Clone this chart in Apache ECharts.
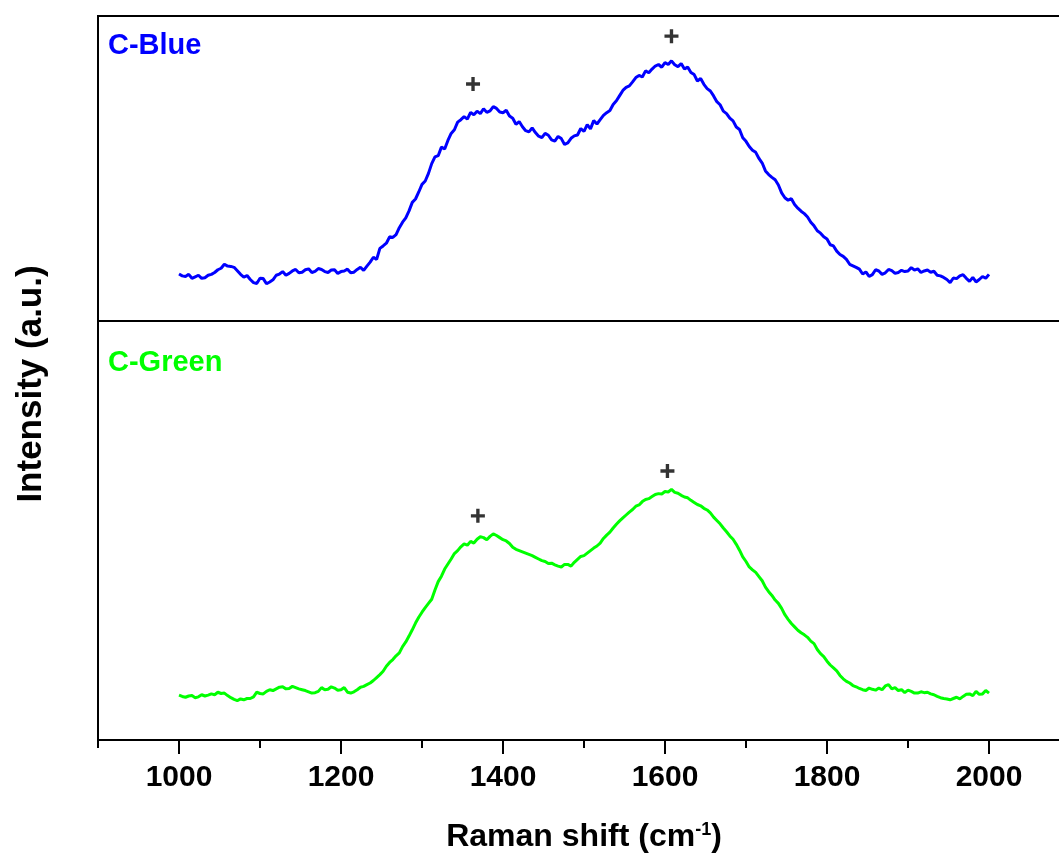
<!DOCTYPE html>
<html>
<head>
<meta charset="utf-8">
<script src="https://cdn.jsdelivr.net/npm/echarts@6/dist/echarts.min.js"></script>
<style>
  html, body { margin: 0; padding: 0; background: #fff; overflow: hidden; }
  #chart { width: 1059px; height: 859px; }
</style>
</head>
<body>
<div id="chart"></div>
<script>
// Spectra are sampled every 4 cm-1 from 1000 to 2000 cm-1
const shiftStart = 1000;
const shiftStep = 4;

// C-Blue spectrum (a.u.), one row per 64 cm-1
const blueIntensity = [
  15.4,14.8,14.6,15.3,14.0,14.5,15.0,14.0,14.2,15.0,15.3,15.9,16.8,17.3,18.6,18.0,
  17.9,17.6,16.5,15.3,14.4,14.9,13.6,12.6,12.3,14.0,13.9,12.2,12.8,13.5,15.0,15.4,
  16.2,15.0,15.6,16.4,16.9,15.8,16.0,16.8,17.1,15.9,16.3,17.2,16.9,16.2,15.9,16.7,
  16.8,15.6,16.2,16.4,17.0,15.8,16.0,16.9,17.6,16.6,18.0,19.3,20.9,20.2,23.8,24.6,
  25.5,27.6,27.4,28.3,30.6,32.4,33.8,36.1,38.9,40.0,42.3,44.8,45.9,48.4,51.6,53.8,
  54.2,57.0,56.4,59.2,61.5,62.7,65.2,66.0,67.0,66.2,68.4,67.6,68.8,68.0,69.6,68.4,
  68.9,70.3,69.7,68.5,68.3,69.1,67.2,66.5,64.5,65.4,63.7,62.4,62.0,63.3,61.8,60.6,
  60.1,61.5,60.9,59.4,59.0,60.5,59.8,57.9,58.4,59.9,60.7,61.0,63.1,62.2,64.4,63.0,
  65.7,64.6,66.0,67.4,68.3,69.0,71.0,72.2,73.9,75.6,76.6,77.1,78.4,79.8,80.5,80.0,
  82.0,81.4,82.6,83.6,84.1,83.2,84.7,84.1,85.3,84.0,83.4,84.4,82.6,83.3,81.5,80.8,
  78.7,79.5,77.6,76.2,75.4,73.8,71.9,70.9,68.8,68.0,66.5,65.6,63.6,62.8,60.1,58.9,
  57.2,56.0,55.3,53.3,51.8,49.2,48.0,47.1,46.3,44.6,42.0,40.4,39.6,40.1,38.2,37.0,
  36.0,35.2,34.1,32.4,31.2,29.6,28.8,27.6,26.9,25.0,24.6,22.9,21.8,21.2,20.2,18.6,
  18.1,17.6,17.0,15.4,16.1,14.6,15.2,16.8,16.4,15.3,15.8,16.9,16.5,15.6,15.9,16.6,
  16.2,16.4,17.5,16.7,17.1,15.9,16.4,16.7,16.0,16.3,15.0,14.8,14.3,13.6,12.6,14.1,
  13.9,14.8,15.2,14.0,13.0,14.3,12.8,13.6,14.6,14.0,15.3
];

// C-Green spectrum (a.u.), one row per 64 cm-1
const greenIntensity = [
  10.7,10.4,10.2,10.5,10.6,10.1,10.3,10.8,10.5,10.7,11.0,10.8,11.4,11.1,11.2,10.6,
  10.1,9.7,9.4,9.8,9.6,9.9,9.9,10.3,11.4,11.1,11.0,11.6,12.0,11.8,12.2,12.6,
  12.7,12.2,12.3,12.8,12.5,12.2,12.0,11.8,11.5,11.2,11.3,11.6,12.5,12.0,12.1,12.7,
  12.4,11.9,12.0,12.5,11.4,11.2,11.5,12.0,12.6,12.8,13.2,13.6,14.2,14.9,15.6,16.4,
  17.6,18.5,19.2,20.1,20.8,22.3,23.4,24.8,26.3,27.9,29.3,30.5,31.6,32.6,33.6,35.8,
  37.8,39.1,40.8,42.0,43.2,44.5,45.2,46.1,46.8,46.5,47.4,47.0,47.9,48.5,48.3,47.8,
  48.6,49.2,48.8,48.3,47.8,47.5,46.9,46.0,45.5,45.2,44.9,44.6,44.3,44.0,43.6,43.2,
  42.8,42.6,42.1,42.2,41.8,41.5,41.3,41.9,41.9,41.5,42.4,43.1,43.8,44.0,44.6,45.2,
  45.8,46.3,47.0,48.1,48.9,49.6,50.6,51.5,52.3,53.0,53.7,54.4,55.0,55.8,56.1,56.9,
  57.4,57.6,58.1,58.6,58.8,58.7,59.3,59.2,59.8,59.1,58.9,58.4,58.0,57.8,57.2,56.7,
  56.2,55.9,55.3,54.9,54.2,53.2,52.4,51.6,50.6,49.7,48.7,47.9,46.7,45.3,43.7,42.6,
  41.3,40.6,40.0,39.0,38.0,36.5,35.4,34.5,33.4,32.6,31.4,29.9,28.8,27.8,27.0,26.2,
  25.6,25.1,24.5,23.6,23.0,21.6,20.6,19.9,18.8,17.9,17.2,16.5,15.4,14.6,14.0,13.6,
  13.0,12.7,12.3,12.0,11.8,12.4,12.1,11.9,12.4,12.0,12.9,13.2,12.2,12.5,11.8,12.0,
  11.3,11.9,11.6,11.2,11.2,11.5,11.3,11.4,11.0,10.8,10.4,10.1,9.9,9.8,9.6,9.9,
  10.2,9.8,10.4,10.9,11.0,10.6,11.6,10.9,11.0,11.8,11.2
];

// Band markers ("+") above the D and G bands
const blueMarkShift = [1363, 1608];
const blueMarkLevel = [77.7, 93.4];
const greenMarkShift = [1369, 1603];
const greenMarkLevel = [53.5, 64.2];

// Labelled tick values on the Raman shift axis
const tickLabels = [1000, 1200, 1400, 1600, 1800, 2000];

const panelNames = ['C-Blue', 'C-Green'];
const xAxisTitle = ['Raman shift (cm', '-1', ')'];
const yAxisTitle = 'Intensity (a.u.)';

const withShift = ys => ys.map((y, i) => [shiftStart + i * shiftStep, y]);
const pair = (xs, ys) => xs.map((x, i) => [x, ys[i]]);
const PLUS = 'path://M3.8,0H6.2V3.8H10V6.2H6.2V10H3.8V6.2H0V3.8H3.8Z';
const FONT = '"Liberation Sans", Arial, sans-serif';

const chart = echarts.init(document.getElementById('chart'), null, { renderer: 'canvas' });

// The plot frame runs past the right edge of the canvas
const frame = {
  show: true, borderColor: '#000', borderWidth: 2, backgroundColor: 'transparent',
  containLabel: false, outerBoundsMode: 'none'
};
// Ticks step from 900 every 200 (short ticks at the odd hundreds);
// the minor ticks in between fall on the even hundreds and are drawn longer.
const xRange = { type: 'value', min: 900, max: 2100, interval: 200 };

chart.setOption({
  animation: false,
  backgroundColor: '#fff',
  grid: [
    Object.assign({ left: 98, width: 972, top: 16, height: 305 }, frame),
    Object.assign({ left: 98, width: 972, top: 321, height: 419 }, frame)
  ],
  xAxis: [
    Object.assign({
      gridIndex: 0, position: 'bottom',
      axisLine: { show: false }, axisTick: { show: false },
      axisLabel: { show: false }, splitLine: { show: false }
    }, xRange),
    Object.assign({
      gridIndex: 1, position: 'bottom',
      axisLine: { show: true, lineStyle: { color: '#000', width: 2 } },
      axisTick: { show: true, inside: false, length: 8, lineStyle: { color: '#000', width: 2 } },
      minorTick: { show: true, splitNumber: 2, length: 14, lineStyle: { color: '#000', width: 2 } },
      splitLine: { show: false },
      axisLabel: {
        customValues: tickLabels, formatter: v => String(v),
        margin: 23, color: '#000', fontFamily: FONT, fontWeight: 'bold', fontSize: 30
      },
      name: '{t|' + xAxisTitle[0] + '}{s|' + xAxisTitle[1] + '}{t|' + xAxisTitle[2] + '}',
      nameLocation: 'middle', nameGap: 81,
      nameTextStyle: {
        rich: {
          t: { fontFamily: FONT, fontWeight: 'bold', fontSize: 32, color: '#000', verticalAlign: 'bottom' },
          s: { fontFamily: FONT, fontWeight: 'bold', fontSize: 18, color: '#000', verticalAlign: 'top', padding: [0, 0, 14, 0] }
        }
      }
    }, xRange)
  ],
  yAxis: [
    { gridIndex: 0, type: 'value', min: 0, max: 100, show: false },
    { gridIndex: 1, type: 'value', min: 0, max: 100, show: false }
  ],
  series: [
    {
      name: panelNames[0], type: 'line', xAxisIndex: 0, yAxisIndex: 0,
      data: withShift(blueIntensity), showSymbol: false, symbol: 'none',
      lineStyle: { color: '#0000ff', width: 3 }, z: 3
    },
    {
      name: panelNames[1], type: 'line', xAxisIndex: 1, yAxisIndex: 1,
      data: withShift(greenIntensity), showSymbol: false, symbol: 'none',
      lineStyle: { color: '#00ff00', width: 3 }, z: 3
    },
    {
      type: 'scatter', xAxisIndex: 0, yAxisIndex: 0,
      data: pair(blueMarkShift, blueMarkLevel),
      symbol: PLUS, symbolSize: 14, itemStyle: { color: '#000' }
    },
    {
      type: 'scatter', xAxisIndex: 1, yAxisIndex: 1,
      data: pair(greenMarkShift, greenMarkLevel),
      symbol: PLUS, symbolSize: 14, itemStyle: { color: '#000' }
    }
  ],
  graphic: [
    {
      type: 'text', x: 108, y: 46,
      style: { text: panelNames[0], fill: '#0000ff', font: 'bold 29px ' + FONT, textAlign: 'left', textVerticalAlign: 'middle' }
    },
    {
      type: 'text', x: 108, y: 363,
      style: { text: panelNames[1], fill: '#00ff00', font: 'bold 29px ' + FONT, textAlign: 'left', textVerticalAlign: 'middle' }
    },
    {
      type: 'text', x: 31, y: 384, rotation: Math.PI / 2,
      style: { text: yAxisTitle, fill: '#000', font: 'bold 35px ' + FONT, textAlign: 'center', textVerticalAlign: 'middle' }
    }
  ]
});
</script>
</body>
</html>
